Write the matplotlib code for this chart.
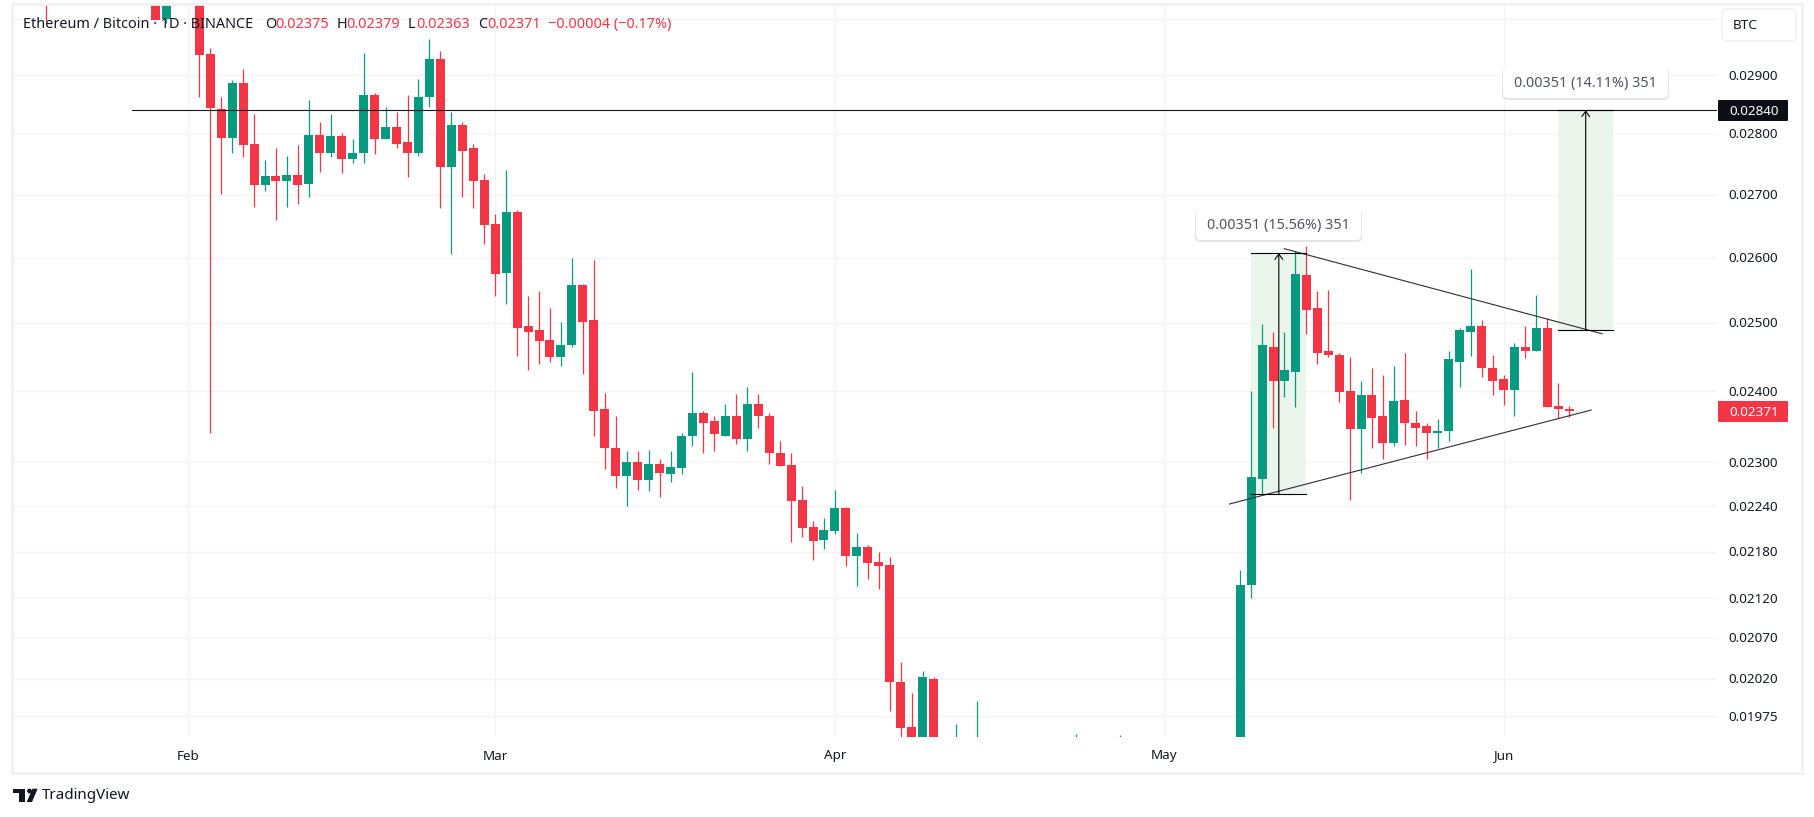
import math
import matplotlib
matplotlib.use('Agg')
import matplotlib.pyplot as plt
from matplotlib.patches import FancyBboxPatch, Polygon, Rectangle, Circle

W, H = 1815, 817
GREEN = '#089981'
RED = '#F23645'
GRID = '#F3F3F4'
TEXT = '#131722'

plt.rcParams['font.family'] = ['Noto Sans', 'DejaVu Sans']

# days counted from Feb 1; candles that sit off the chart only show their wicks
days = [-13, -3, -2, 1] + list(range(2, 69)) + [70, 72, 81, 85] + list(range(96, 127))
opens = [0.03100, 0.03120, 0.03000, 0.03050,
         0.02938, 0.02843, 0.02794, 0.02887, 0.02784, 0.02716, 0.02731, 0.02722, 0.02732, 0.02717,
         0.02799, 0.02769, 0.02797, 0.02759, 0.02769, 0.02867, 0.02792, 0.02812, 0.02786, 0.02769,
         0.02862, 0.02928, 0.02746, 0.02816, 0.02776, 0.02724, 0.02653, 0.02576, 0.02672, 0.02495,
         0.02489, 0.02475, 0.02449, 0.02467, 0.02557, 0.02504, 0.02375, 0.02320, 0.02281, 0.02300,
         0.02276, 0.02298, 0.02284, 0.02292, 0.02336, 0.02369, 0.02357, 0.02337, 0.02364, 0.02332,
         0.02381, 0.02365, 0.02313, 0.02296, 0.02249, 0.02212, 0.02195, 0.02207, 0.02238, 0.02174,
         0.02186, 0.02166, 0.02162, 0.02016, 0.01962, 0.01890, 0.02020,
         0.01850, 0.01860, 0.01800, 0.01800,
         0.01900, 0.02137, 0.02277, 0.02465, 0.02415, 0.02428, 0.02573, 0.02522, 0.02458, 0.02453,
         0.02400, 0.02346, 0.02395, 0.02364, 0.02327, 0.02388, 0.02355, 0.02350, 0.02341, 0.02343,
         0.02443, 0.02487, 0.02495, 0.02434, 0.02417, 0.02402, 0.02464, 0.02459, 0.02492, 0.02379,
         0.02375]
highs = [0.03150, 0.03200, 0.03050, 0.03070,
         0.02948, 0.02863, 0.02892, 0.02911, 0.02834, 0.02756, 0.02777, 0.02764, 0.02782, 0.02857,
         0.02821, 0.02834, 0.02801, 0.02792, 0.02940, 0.02870, 0.02846, 0.02838, 0.02867, 0.02894,
         0.02965, 0.02943, 0.02838, 0.02821, 0.02784, 0.02734, 0.02669, 0.02741, 0.02675, 0.02541,
         0.02549, 0.02522, 0.02501, 0.02600, 0.02560, 0.02596, 0.02398, 0.02364, 0.02316, 0.02316,
         0.02317, 0.02305, 0.02316, 0.02341, 0.02428, 0.02371, 0.02364, 0.02382, 0.02396, 0.02406,
         0.02396, 0.02369, 0.02330, 0.02312, 0.02268, 0.02220, 0.02224, 0.02262, 0.02239, 0.02204,
         0.02188, 0.02179, 0.02173, 0.02040, 0.02003, 0.02029, 0.02022,
         0.01966, 0.01993, 0.01954, 0.01953,
         0.02156, 0.02400, 0.02499, 0.02486, 0.02486, 0.02610, 0.02618, 0.02549, 0.02550, 0.02455,
         0.02449, 0.02414, 0.02434, 0.02424, 0.02436, 0.02456, 0.02371, 0.02354, 0.02360, 0.02458,
         0.02492, 0.02582, 0.02505, 0.02452, 0.02423, 0.02471, 0.02495, 0.02543, 0.02508, 0.02412,
         0.02379]
lows = [0.02996, 0.03000, 0.02993, 0.02862,
        0.02340, 0.02701, 0.02769, 0.02762, 0.02680, 0.02706, 0.02659, 0.02680, 0.02685, 0.02696,
        0.02737, 0.02761, 0.02736, 0.02751, 0.02752, 0.02766, 0.02791, 0.02776, 0.02729, 0.02764,
        0.02846, 0.02678, 0.02605, 0.02697, 0.02678, 0.02621, 0.02541, 0.02529, 0.02451, 0.02430,
        0.02440, 0.02442, 0.02436, 0.02464, 0.02425, 0.02337, 0.02291, 0.02264, 0.02240, 0.02262,
        0.02260, 0.02253, 0.02273, 0.02284, 0.02323, 0.02313, 0.02316, 0.02337, 0.02325, 0.02315,
        0.02347, 0.02298, 0.02295, 0.02192, 0.02199, 0.02169, 0.02183, 0.02203, 0.02161, 0.02136,
        0.02145, 0.02131, 0.01981, 0.01930, 0.01880, 0.01880, 0.01870,
        0.01830, 0.01840, 0.01780, 0.01780,
        0.01880, 0.02120, 0.02255, 0.02347, 0.02391, 0.02377, 0.02483, 0.02439, 0.02449, 0.02384,
        0.02249, 0.02285, 0.02319, 0.02305, 0.02323, 0.02324, 0.02323, 0.02305, 0.02320, 0.02329,
        0.02406, 0.02451, 0.02420, 0.02395, 0.02380, 0.02365, 0.02448, 0.02458, 0.02378, 0.02361,
        0.02363]
closes = [0.03050, 0.02999, 0.03060, 0.02936,
          0.02844, 0.02794, 0.02887, 0.02782, 0.02716, 0.02731, 0.02722, 0.02732, 0.02716, 0.02799,
          0.02769, 0.02796, 0.02759, 0.02769, 0.02867, 0.02792, 0.02811, 0.02784, 0.02769, 0.02863,
          0.02928, 0.02746, 0.02816, 0.02772, 0.02722, 0.02651, 0.02575, 0.02672, 0.02493, 0.02487,
          0.02473, 0.02449, 0.02468, 0.02557, 0.02502, 0.02372, 0.02319, 0.02281, 0.02300, 0.02276,
          0.02298, 0.02285, 0.02294, 0.02337, 0.02369, 0.02355, 0.02339, 0.02364, 0.02332, 0.02381,
          0.02364, 0.02312, 0.02295, 0.02247, 0.02211, 0.02194, 0.02208, 0.02238, 0.02174, 0.02186,
          0.02165, 0.02161, 0.02016, 0.01961, 0.01900, 0.02022, 0.01880,
          0.01870, 0.01880, 0.01820, 0.01790,
          0.02137, 0.02279, 0.02468, 0.02415, 0.02430, 0.02575, 0.02520, 0.02456, 0.02452, 0.02399,
          0.02346, 0.02395, 0.02362, 0.02327, 0.02386, 0.02355, 0.02348, 0.02341, 0.02344, 0.02446,
          0.02490, 0.02495, 0.02434, 0.02415, 0.02402, 0.02464, 0.02459, 0.02492, 0.02378, 0.02375,
          0.02371]

price_ticks = [0.02900, 0.02800, 0.02700, 0.02600, 0.02500, 0.02400, 0.02300,
               0.02240, 0.02180, 0.02120, 0.02070, 0.02020, 0.01975]
month_days = [0, 28, 59, 89, 120]
month_names = ['Feb', 'Mar', 'Apr', 'May', 'Jun']
level_price = 0.02840
last_price = 0.02371
range_left = (97, 102, 0.02256, 0.02607)
range_right = (125, 130, 0.02489, 0.02840)
upper_trend = ([100, 129], [0.02614, 0.02484])
lower_trend = ([95, 128], [0.02243, 0.02373])

fig = plt.figure(figsize=(W / 100, H / 100), dpi=100, facecolor='white')
ax = fig.add_axes([11 / W, 1 - 737 / H, (1717 - 11) / W, (737 - 4) / H])
ax.set_yscale('log')
ax.set_xlim((11 - 188.3) / 10.96, (1717 - 188.3) / 10.96)
ax.set_ylim(0.019506, 0.03027)
ax.axis('off')

for p in price_ticks + [0.03000]:
    ax.axhline(p, color=GRID, lw=1, zorder=0)
for d in month_days:
    ax.axvline(d, color=GRID, lw=0.9, zorder=0)

for x0, x1, p0, p1 in [range_left, range_right]:
    ax.fill_between([x0, x1], p0, p1, color='#EAF5EC', lw=0, zorder=1)

colors = [GREEN if c >= o else RED for o, c in zip(opens, closes)]
ax.vlines(days, lows, highs, colors=colors, lw=0.9, zorder=2)
bottoms = [min(o, c) for o, c in zip(opens, closes)]
heights = [abs(o - c) for o, c in zip(opens, closes)]
ax.bar(days, heights, bottom=bottoms, width=0.82, color=colors, lw=0, zorder=3)

ax.plot([(132.4 - 188.3) / 10.96, (1717 - 188.3) / 10.96], [level_price, level_price],
        color='#131722', lw=0.8, zorder=4)
ax.plot(*upper_trend, color='#2a2e39', lw=0.8, zorder=4)
ax.plot(*lower_trend, color='#2a2e39', lw=0.8, zorder=4)

for x0, x1, p0, p1 in [range_left, range_right]:
    ax.plot([x0, x1], [p0, p0], color='black', lw=0.8, zorder=4)
    ax.plot([x0, x1], [p1, p1], color='black', lw=0.8, zorder=4)
    ax.annotate('', xy=((x0 + x1) / 2, p1), xytext=((x0 + x1) / 2, p0),
                arrowprops=dict(arrowstyle='->,head_width=0.28,head_length=0.38', color='black',
                                lw=0.8, shrinkA=0, shrinkB=0), zorder=4)

# page furniture in pixel coordinates
ui = fig.add_axes([0, 0, 1, 1], facecolor='none')
ui.set_xlim(0, W)
ui.set_ylim(H, 0)
ui.axis('off')

ui.add_patch(Rectangle((12, 3.5), 1790, 769, fill=False, ec='#F1F1F2', lw=2))


def box(x0, y0, x1, y1, fc='white', ec='none', r=4, zorder=6):
    ui.add_patch(FancyBboxPatch((x0 + r, y0 + r), x1 - x0 - 2 * r, y1 - y0 - 2 * r,
                                boxstyle='round,pad=%d,rounding_size=%d' % (r, r),
                                fc=fc, ec=ec, lw=1, zorder=zorder))


FS = 9.7
for p in price_ticks:
    y = 75.3 + 1668.5 * math.log(0.029 / p)
    ui.text(1728, y + 1, '%.5f' % p, fontsize=FS, color=TEXT, va='center', ha='left')
for d, name in zip(month_days, month_names):
    ui.text(188.3 + d * 10.96, 756, name, fontsize=FS, color=TEXT, va='center', ha='center',
            fontweight='bold')

box(1722, 9, 1796, 41, ec='#EEEFF2', r=5)
ui.text(1733, 25, 'BTC', fontsize=FS, color=TEXT, va='center', ha='left', zorder=7)

box(1718, 100, 1788, 121, fc='#0B0E14', r=1)
ui.text(1729, 111, '%.5f' % level_price, fontsize=FS, color='white', va='center', ha='left',
        fontweight='bold', zorder=7)
box(1718, 401, 1788, 422, fc=RED, r=1)
ui.text(1729, 412, '%.5f' % last_price, fontsize=FS, color='white', va='center', ha='left',
        fontweight='bold', zorder=7)

for x0, y0, x1, y1, s in [(1196, 209, 1361, 240, '0.00351 (15.56%) 351'),
                          (1503, 67, 1668, 98, '0.00351 (14.11%) 351')]:
    box(x0 - 1, y0 + 1, x1 + 1, y1 + 2, fc='#E4E5E8', r=5, zorder=5)
    box(x0, y0, x1, y1, r=5)
    ui.text((x0 + x1) / 2, (y0 + y1) / 2 + 0.5, s, fontsize=10.3, color='#50535E', va='center',
            ha='center', zorder=7)

HS = 10.4
ui.text(23, 24.5, 'Ethereum / Bitcoin · 1D · BINANCE', fontsize=HS, color=TEXT, va='center', zorder=7)
for x, s, c in [(265, 'O', TEXT), (275, '0.02375', RED), (337, 'H', TEXT), (346, '0.02379', RED),
                (408, 'L', TEXT), (416, '0.02363', RED), (478, 'C', TEXT), (487, '0.02371', RED),
                (548, '−0.00004 (−0.17%)', RED)]:
    ui.text(x, 24.5, s, fontsize=HS, color=c, va='center', zorder=7)

# TradingView logo
ui.add_patch(Polygon([(12.7, 788.7), (25.3, 788.7), (25.3, 802), (19.3, 802), (19.3, 793), (12.7, 793)],
                     fc=TEXT, lw=0))
ui.add_patch(Circle((29.5, 791), 2.4, fc=TEXT, lw=0))
ui.add_patch(Polygon([(32.5, 788.7), (37.7, 788.7), (32, 802), (26.7, 802)], fc=TEXT, lw=0))
ui.text(42, 795.5, 'TradingView', fontsize=10.9, color=TEXT, va='center')

fig.savefig('out.png', dpi=100)
